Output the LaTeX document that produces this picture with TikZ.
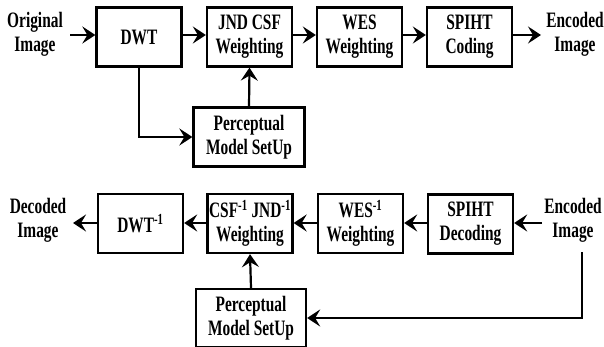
\documentclass[tikz,border=0pt]{standalone}
\usepackage{fontspec}
\setmainfont{Liberation Serif}[FakeStretch=0.7]
\usetikzlibrary{arrows.meta}
\tikzset{
  blk/.style={draw=black, line width=2.3pt, fill=white, minimum width=85pt, minimum height=59pt, inner sep=0pt, align=center, font=\fontsize{22}{24}\selectfont\bfseries},
  lbl/.style={align=center, inner sep=0pt, font=\fontsize{22}{24}\selectfont\bfseries},
  conn/.style={line width=2.2pt, -{Stealth[length=13pt,width=17pt,inset=5pt]}},
  wire/.style={line width=2.2pt}
}
\begin{document}
\begin{tikzpicture}[x=1pt,y=-1pt]
\useasboundingbox (0,0) rectangle (604,347);
% top row
\node[lbl] (orig) at (35,34) {Original\\Image};
\node[blk] (dwt) at (139,37) {DWT};
\node[blk] (jnd) at (249.5,37) {JND CSF\\Weighting};
\node[blk] (wes) at (359.5,37) {WES\\Weighting};
\node[blk] (spc) at (469.5,37) {SPIHT\\Coding};
\node[lbl] (enc) at (575,34) {Encoded\\Image};
\node[blk, minimum width=111pt] (pm1) at (249,137) {Perceptual\\Model SetUp};
\coordinate (o1) at (70,35);
\coordinate (e1) at (541,35);
\draw[conn] (o1) -- (dwt.west |- o1);
\draw[conn] (dwt.east |- 0,35) -- (jnd.west |- 0,35);
\draw[conn] (jnd.east |- 0,35) -- (wes.west |- 0,35);
\draw[conn] (wes.east |- 0,35) -- (spc.west |- 0,35);
\draw[conn] (spc.east |- e1) -- (e1);
\draw[conn] (dwt.south) |- (pm1.west);
\draw[conn] (pm1.north) -- (jnd.south);
% bottom row
\node[lbl] (dec) at (38,220) {Decoded\\Image};
\node[blk] (idwt) at (140.5,223.5) {DWT\textsuperscript{-1}};
\node[blk] (icsf) at (250,223.5) {CSF\textsuperscript{-1} JND\textsuperscript{-1}\\Weighting};
\node[blk] (iwes) at (360.5,223.5) {WES\textsuperscript{-1}\\Weighting};
\node[blk] (spd) at (470.5,224) {SPIHT\\Decoding};
\node[lbl] (enc2) at (573,220) {Encoded\\Image};
\node[blk, minimum width=110pt, minimum height=58pt] (pm2) at (251,318) {Perceptual\\Model SetUp};
\coordinate (d2) at (73,223);
\coordinate (e2) at (542,223);
\coordinate (e2b) at (582,252);
\draw[conn] (e2) -- (spd.east |- e2);
\draw[conn] (spd.west |- 0,223) -- (iwes.east |- 0,223);
\draw[conn] (iwes.west |- 0,223) -- (icsf.east |- 0,223);
\draw[conn] (icsf.west |- 0,223) -- (idwt.east |- 0,223);
\draw[conn] (idwt.west |- d2) -- (d2);
\draw[conn] (pm2.north) -- (icsf.south);
\draw[conn] (e2b) |- (pm2.east);
\end{tikzpicture}
\end{document}
